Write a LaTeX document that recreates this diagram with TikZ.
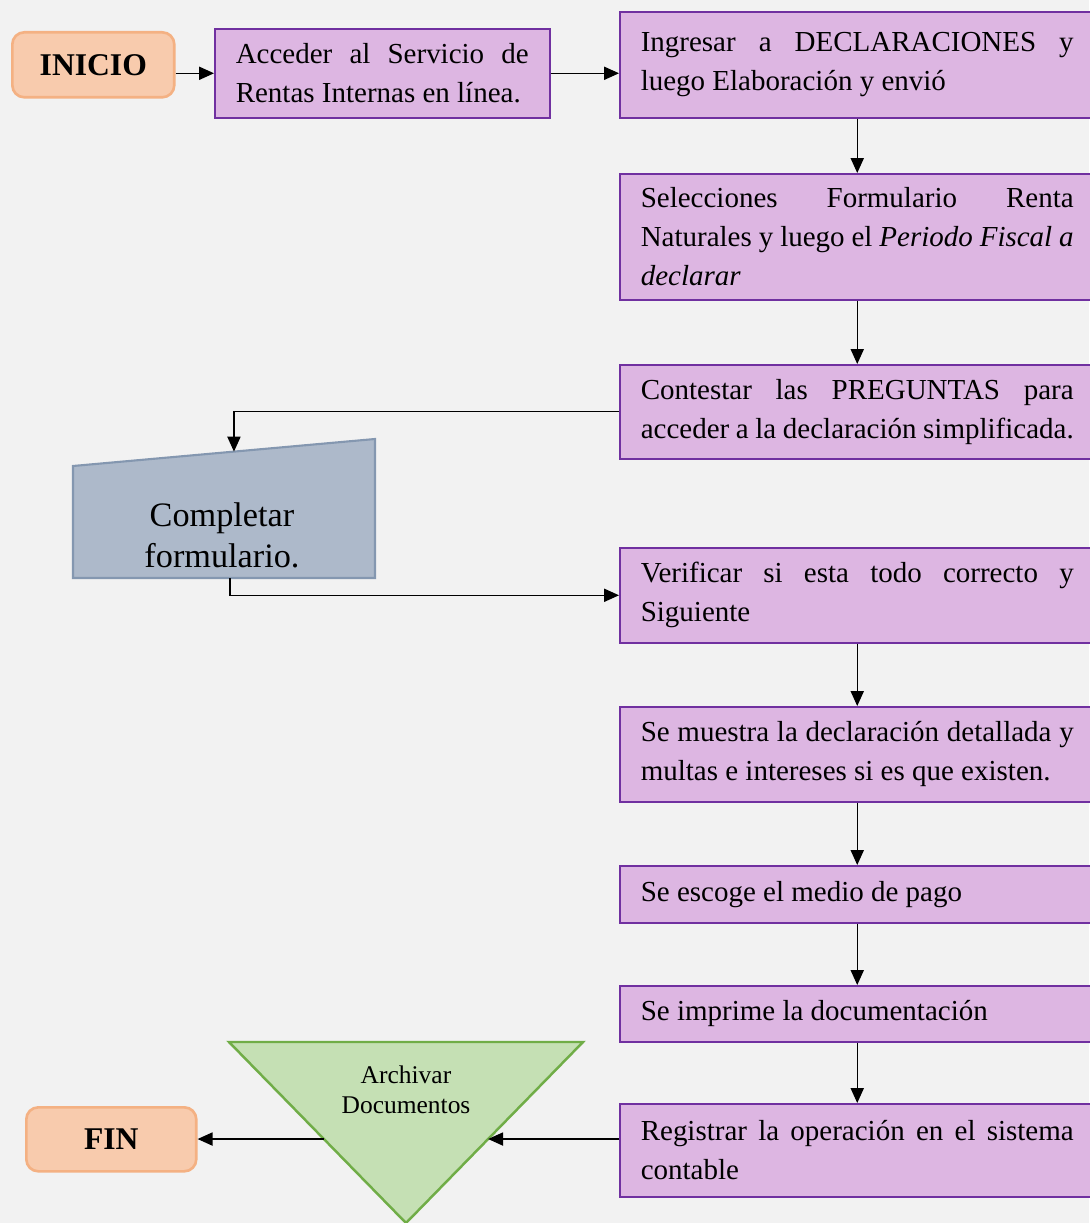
\documentclass[tikz,border=0pt]{standalone}
\usepackage{fontspec}
\setmainfont{Liberation Serif}
\usetikzlibrary{arrows.meta,calc}
\definecolor{dcPaper}{HTML}{F2F2F2}
\definecolor{dcTask}{HTML}{DDB6E2}
\definecolor{dcTaskEdge}{HTML}{7030A0}
\definecolor{dcTerm}{HTML}{F8CBAD}
\definecolor{dcTermEdge}{HTML}{F4B183}
\definecolor{dcForm}{HTML}{ADB9CA}
\definecolor{dcFormEdge}{HTML}{8497B0}
\definecolor{dcFile}{HTML}{C5E0B4}
\definecolor{dcFileEdge}{HTML}{70AD47}
\hyphenpenalty=10000
\exhyphenpenalty=10000

\begin{document}
\begin{tikzpicture}[x=0.02cm,y=-0.02cm,
                    task/.style={draw=dcTaskEdge,line width=0.9pt,fill=dcTask,anchor=north west,
                                 align=justify,text width=8.66cm,inner xsep=0.42cm,inner ysep=0pt,
                                 font=\fontsize{16.5pt}{22.2pt}\selectfont},
                    term/.style={draw=dcTermEdge,line width=1.5pt,fill=dcTerm,rounded corners=0.24cm,
                                 anchor=north west,font=\fontsize{18pt}{22pt}\selectfont\bfseries},
                    flow/.style={line width=0.75pt,-{Triangle[length=8.5pt,width=7.5pt]}}]
  \fill[dcPaper] (0,0) rectangle (1089,1223);
  \useasboundingbox (0,0) rectangle (1089,1223);

  % start and end
  \node[term,minimum width=3.24cm,minimum height=1.3cm] (inicio) at (11,31) {INICIO};
  \node[term,minimum width=3.4cm,minimum height=1.28cm] (fin) at (25,1106) {FIN};

  % steps
  \node[task,text width=5.86cm,minimum height=1.78cm] (acceso) at (214,28)
       {Acceder al Servicio de Rentas Internas en línea.};
  \node[task,minimum height=2.12cm] (ingreso) at (619,11)
       {Ingresar a DECLARACIONES y luego Elaboración y envió};
  \node[task,minimum height=2.52cm] (seleccion) at (619,173)
       {Selecciones Formulario Renta Naturales y luego el \textit{Periodo Fiscal a declarar}};
  \node[task,minimum height=1.88cm] (pregunta) at (619,364)
       {Contestar las PREGUNTAS para acceder a la declaración simplificada.};
  \node[task,minimum height=1.9cm] (verifica) at (619,547)
       {Verificar si esta todo correcto y Siguiente};
  \node[task,minimum height=1.9cm] (detalle) at (619,706)
       {Se muestra la declaración detallada y multas e intereses si es que existen.};
  \node[task,minimum height=1.14cm] (pago) at (619,865) {Se escoge el medio de pago};
  \node[task,minimum height=1.12cm] (imprime) at (619,985) {Se imprime la documentación};
  \node[task,minimum height=1.86cm] (registro) at (619,1103)
       {Registrar la operación en el sistema contable};

  % manual input
  \draw[draw=dcFormEdge,fill=dcForm,line width=1.2pt]
    (73,466) coordinate (ftl) -- (375,439) coordinate (ftr) -- (375,578) -- (73,578) -- cycle;
  \node[align=center,font=\fontsize{19.5pt}{23.2pt}\selectfont] (formulario) at (222,535)
       {Completar\\formulario.};
  \coordinate (formtop) at ($(ftl)!0.533!(ftr)$);
  \coordinate (formbot) at (230,578);

  % archive
  \draw[draw=dcFileEdge,fill=dcFile,line width=1.4pt]
    (229,1042) coordinate (atl) -- (583,1042) coordinate (atr) -- (406,1223) coordinate (abot) -- cycle;
  \node[align=center,font=\fontsize{14.5pt}{17pt}\selectfont] (archivo) at (406,1090)
       {Archivar\\Documentos};
  \coordinate (archder) at ($(atr)!0.536!(abot)$);
  \coordinate (archizq) at ($(atl)!0.536!(abot)$);

  % connectors
  \draw[flow] (acceso.west -| inicio.east) -- (acceso.west);
  \draw[flow] (acceso.east) -- (acceso.east -| ingreso.west);
  \draw[flow] (ingreso) -- (seleccion);
  \draw[flow] (seleccion) -- (pregunta);
  \draw[flow] (pregunta.west) -| (formtop);
  \draw[flow] (formbot) |- (verifica.west);
  \draw[flow] (verifica) -- (detalle);
  \draw[flow] (detalle) -- (pago);
  \draw[flow] (pago) -- (imprime);
  \draw[flow] (imprime) -- (registro);
  \draw[flow] (registro.west |- archder) -- (archder);
  \draw[flow] (archizq) -- (archizq -| fin.east);
\end{tikzpicture}
\end{document}
